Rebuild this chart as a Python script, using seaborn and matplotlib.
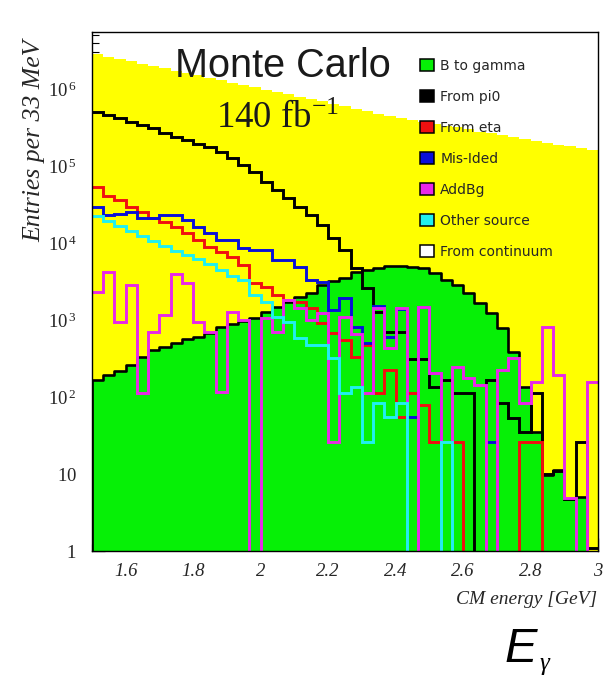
import numpy as np
import pandas as pd
import matplotlib
matplotlib.use("Agg")
import matplotlib.pyplot as plt
import seaborn as sns
from matplotlib.patches import Patch
from matplotlib.ticker import MultipleLocator, LogLocator, NullFormatter

# ---------------- data (entries per 33 MeV bin, 45 bins from 1.5 to 3.0 GeV) ----------------
bin_low, bin_high, n_bins = 1.5, 3.0, 45

continuum = [2.83e6, 2.64e6, 2.45e6, 2.29e6, 2.13e6, 1.99e6, 1.85e6, 1.72e6, 1.61e6, 1.50e6,
             1.39e6, 1.30e6, 1.21e6, 1.13e6, 1.05e6, 9.8e5, 9.1e5, 8.5e5, 7.9e5, 7.4e5,
             6.9e5, 6.4e5, 6.0e5, 5.5e5, 5.2e5, 4.8e5, 4.5e5, 4.2e5, 4.0e5, 3.7e5,
             3.5e5, 3.3e5, 3.2e5, 3.0e5, 2.8e5, 2.7e5, 2.5e5, 2.4e5, 2.25e5, 2.13e5,
             2.01e5, 1.90e5, 1.80e5, 1.70e5, 1.61e5]

b_to_gamma = [166, 193, 220, 260, 328, 408, 450, 498, 561, 596,
              672, 804, 887, 980, 1052, 1282, 1462, 1730, 2010, 2220,
              2850, 3240, 3500, 4200, 4460, 4700, 5000, 5000, 4900, 4700,
              4100, 3300, 2850, 2240, 1660, 1230, 787, 388, 136, 35,
              9.7, 11.3, 4.7, 5.1, 0]

from_pi0 = [5.1e5, 4.6e5, 4.2e5, 3.76e5, 3.4e5, 3.09e5, 2.7e5, 2.4e5, 2.18e5, 1.93e5,
            1.75e5, 1.53e5, 1.26e5, 1.03e5, 8.4e4, 6.2e4, 4.9e4, 3.8e4, 2.9e4, 2.3e4,
            1.7e4, 1.16e4, 8.1e3, 4.7e3, 2.6e3, 1270, 700, 700, 312, 312,
            136, 166, 113, 113, 0, 166, 84, 53, 35, 113,
            10, 11, 4.7, 26, 1.1]

from_eta = [5.4e4, 4.1e4, 3.6e4, 2.96e4, 2.55e4, 2.1e4, 1.89e4, 1.63e4, 1.34e4, 1.09e4,
            8.9e3, 7.7e3, 6.6e3, 5.2e3, 3.0e3, 2.7e3, 2.1e3, 1820, 1730, 1420,
            906, 672, 550, 333, 473, 112, 224, 55, 113, 79,
            26, 26, 26, 0, 0, 0, 0, 0, 26, 26,
            0, 0, 0, 0, 0]

mis_ided = [2.96e4, 2.31e4, 2.4e4, 2.55e4, 2.1e4, 2.1e4, 2.31e4, 2.31e4, 1.99e4, 1.63e4,
            1.34e4, 1.09e4, 1.09e4, 8.5e3, 8.1e3, 8.1e3, 6.0e3, 6.0e3, 4.9e3, 3.3e3,
            3.1e3, 1350, 1910, 819, 498, 1500, 607, 1400, 55, 1480,
            203, 0, 0, 0, 0, 26, 0, 0, 0, 0,
            0, 0, 0, 0, 0]

add_bg = [2330, 4200, 950, 2850, 112, 705, 1160, 4000, 3000, 950,
          705, 117, 1280, 1000, 0, 1050, 705, 1820, 1420, 1000,
          1230, 26, 1100, 650, 113, 1420, 429, 1420, 0, 1490,
          203, 0, 248, 176, 143, 0, 224, 321, 84, 158,
          819, 193, 4.9, 0, 158]

other_source = [2.24e4, 1.93e4, 1.66e4, 1.43e4, 1.23e4, 1.06e4, 9.1e3, 7.9e3, 7.0e3, 6.2e3,
                5.3e3, 4.5e3, 3.7e3, 3.3e3, 2.1e3, 1710, 1090, 942, 584, 473,
                473, 321, 113, 136, 26, 84, 55, 84, 0, 0,
                0, 26, 0, 0, 0, 0, 0, 0, 0, 0,
                0, 0, 0, 0, 0]

legend_labels = ["B to gamma", "From pi0", "From eta", "Mis-Ided", "AddBg",
                 "Other source", "From continuum"]
xtick_vals = [1.6, 1.8, 2.0, 2.2, 2.4, 2.6, 2.8, 3.0]
xtick_labels = ["1.6", "1.8", "2", "2.2", "2.4", "2.6", "2.8", "3"]
ytick_vals = [1, 10, 1e2, 1e3, 1e4, 1e5, 1e6]
ytick_labels = [r"$\mathit{1}$", r"$\mathit{10}$", r"$\mathit{10}^{\,\mathit{2}}$",
                r"$\mathit{10}^{\,\mathit{3}}$", r"$\mathit{10}^{\,\mathit{4}}$",
                r"$\mathit{10}^{\,\mathit{5}}$", r"$\mathit{10}^{\,\mathit{6}}$"]

# ---------------- style ----------------
sns.set_theme(style="ticks")
plt.rcParams["font.family"] = ["Liberation Serif", "DejaVu Serif"]
plt.rcParams["mathtext.fontset"] = "custom"
plt.rcParams["mathtext.rm"] = "Liberation Serif"
plt.rcParams["mathtext.it"] = "Liberation Serif:italic"
plt.rcParams["mathtext.bf"] = "Liberation Serif:bold"

C_GREEN = "#06f006"
C_YELLOW = "#ffff00"
C_BLACK = "#000000"
C_RED = "#f01010"
C_BLUE = "#0a10d8"
C_MAGENTA = "#e828e8"
C_CYAN = "#20f0f0"
C_TEXT = "#262626"

edges = np.linspace(bin_low, bin_high, n_bins + 1)
centers = 0.5 * (edges[:-1] + edges[1:])

W, H = 606, 679
fig = plt.figure(figsize=(W / 100, H / 100), dpi=100)
fig.patch.set_facecolor("white")
ax = fig.add_axes([92 / W, 128 / H, 506 / W, 519 / H])
ax.set_facecolor("white")


def hist(vals, **kw):
    df = pd.DataFrame({"energy": centers, "entries": np.asarray(vals, dtype=float)})
    sns.histplot(data=df, x="energy", weights="entries", bins=list(edges),
                 element="step", ax=ax, **kw)


# filled histograms
hist(continuum, fill=True, facecolor=C_YELLOW, edgecolor="none", linewidth=0, alpha=1)
hist(b_to_gamma, fill=True, facecolor=C_GREEN, edgecolor=C_BLACK, linewidth=1.9, alpha=1)
# outline histograms
line_kw = dict(fill=False, linewidth=2.1, alpha=1, solid_joinstyle="miter")
hist(from_pi0, color=C_BLACK, **line_kw)
hist(from_eta, color=C_RED, **line_kw)
hist(mis_ided, color=C_BLUE, **line_kw)
hist(add_bg, color=C_MAGENTA, **line_kw)
hist(other_source, color=C_CYAN, **line_kw)

ax.set_yscale("log")
ax.set_xlim(bin_low, bin_high)
ax.set_ylim(1, 5.5e6)

ax.set_xticks(xtick_vals)
ax.set_xticklabels(xtick_labels)
ax.xaxis.set_minor_locator(MultipleLocator(0.05))
ax.set_yticks(ytick_vals)
ax.set_yticklabels(ytick_labels)
ax.yaxis.set_minor_locator(LogLocator(base=10, subs=np.arange(2, 10)))
ax.yaxis.set_minor_formatter(NullFormatter())

ax.tick_params(axis="both", which="major", direction="in", length=9.5, width=0.9,
               color="black", top=False, right=False, labelcolor=C_TEXT)
ax.tick_params(axis="both", which="minor", direction="in", length=5, width=0.8,
               color="black", top=False, right=False)
ax.tick_params(axis="x", which="major", pad=9)
ax.tick_params(axis="y", which="major", pad=11)
for lab in ax.get_xticklabels():
    lab.set_fontstyle("italic")
    lab.set_fontsize(13.5)
for lab in ax.get_yticklabels():
    lab.set_fontsize(13.5)
for s in ax.spines.values():
    s.set_color("black")
    s.set_linewidth(1.0)
    s.set_visible(True)
ax.set_xlabel("")
ax.set_ylabel("")
ax.grid(False)

# axis titles
fig.text(597 / W, 1 - 600 / H, "CM energy [GeV]", ha="right", va="center",
         fontsize=14, fontstyle="italic", color=C_TEXT)
fig.text(34 / W, 1 - 141 / H, "Entries per 33 MeV", ha="center", va="center",
         rotation=90, fontsize=18.5, fontstyle="italic", color=C_TEXT)

# annotations
fig.text(175 / W, 1 - 77 / H, "Monte Carlo", ha="left", va="baseline", fontsize=28.5,
         family=["Liberation Sans", "DejaVu Sans"], color="#1a1a1a")
fig.text(216 / W, 1 - 128 / H, "140 fb$^{-1}$", ha="left", va="baseline", fontsize=26.5,
         color="#1a1a1a")
fig.text(505 / W, 1 - 662 / H, "E", ha="left", va="baseline", fontsize=35,
         fontstyle="italic", family=["Liberation Sans", "DejaVu Sans"], color="black")
fig.text(540 / W, 1 - 670 / H, "γ", ha="left", va="baseline", fontsize=18,
         fontstyle="italic", color="black")

# legend
handle_colors = [C_GREEN, C_BLACK, C_RED, C_BLUE, C_MAGENTA, C_CYAN, "white"]
handles = [Patch(facecolor=c, edgecolor="black", linewidth=1.1) for c in handle_colors]
leg = ax.legend(handles, legend_labels, loc="upper left",
                bbox_to_anchor=((420 - 92) / 506, (551 - 59) / 519),
                frameon=False, handlelength=1.0, handleheight=1.0,
                handletextpad=0.45, labelspacing=1.22, borderpad=0, borderaxespad=0,
                prop={"family": "DejaVu Sans", "size": 10})

fig.savefig("out.png", dpi=100, facecolor="white")
